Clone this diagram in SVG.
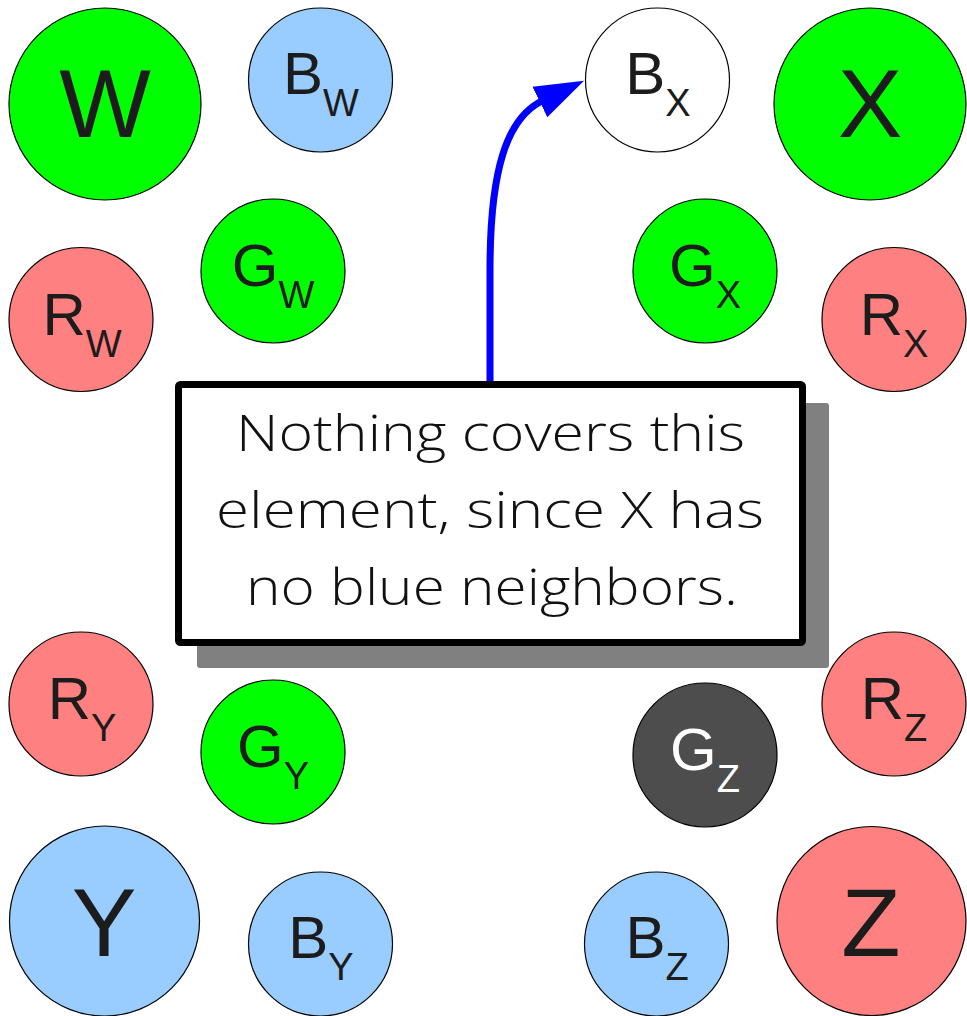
<svg xmlns="http://www.w3.org/2000/svg" width="967" height="1016" viewBox="0 0 967 1016">
<style>
.n{stroke:#000;stroke-width:1.2}
.g{fill:#00ff00}.b{fill:#99ccff}.r{fill:#ff8080}.w{fill:#ffffff}.d{fill:#4d4d4d}
text{font-family:"Liberation Sans",Arial,sans-serif;fill:#1c1c1c;text-anchor:middle}
.big{font-size:97px}
.sm{font-size:60px}
.sub{font-size:38px}
.lt{fill:#ffffff}
.note{font-family:"Open Sans","DejaVu Sans",sans-serif;font-weight:300;font-size:50px;fill:#111;text-anchor:start}
</style>
<defs>
<marker id="ah" markerUnits="userSpaceOnUse" markerWidth="60" markerHeight="40" viewBox="0 -20 60 40" refX="3" refY="0" orient="auto">
<path d="M0,-17 L49,0 L0,17 Z" fill="#0000ff"/>
</marker>
</defs>
<g id="W"><circle class="n g" cx="105" cy="104" r="96"/><text class="big" x="105" y="137">W</text></g>
<g id="BW"><circle class="n b" cx="320.5" cy="80" r="72"/><text class="sm" x="321" y="94">B<tspan class="sub" dy="22">W</tspan></text></g>
<g id="GW"><circle class="n g" cx="273" cy="271" r="72"/><text class="sm" x="273" y="286">G<tspan class="sub" dy="22">W</tspan></text></g>
<g id="RW"><circle class="n r" cx="81" cy="319.5" r="72"/><text class="sm" x="82" y="335">R<tspan class="sub" dy="22">W</tspan></text></g>
<g id="BX"><circle class="n w" cx="657.5" cy="80" r="72"/><text class="sm" x="658" y="94">B<tspan class="sub" dy="22">X</tspan></text></g>
<g id="X"><circle class="n g" cx="870" cy="104" r="96"/><text class="big" x="870" y="137">X</text></g>
<g id="GX"><circle class="n g" cx="705" cy="271" r="72"/><text class="sm" x="705" y="286">G<tspan class="sub" dy="22">X</tspan></text></g>
<g id="RX"><circle class="n r" cx="894" cy="319.5" r="72"/><text class="sm" x="894" y="335">R<tspan class="sub" dy="22">X</tspan></text></g>
<g id="RY"><circle class="n r" cx="81" cy="704" r="72"/><text class="sm" x="82" y="719">R<tspan class="sub" dy="22">Y</tspan></text></g>
<g id="GY"><circle class="n g" cx="273" cy="752" r="72"/><text class="sm" x="273" y="767">G<tspan class="sub" dy="22">Y</tspan></text></g>
<g id="Y"><circle class="n b" cx="104.5" cy="921" r="95"/><text class="big" x="104" y="956">Y</text></g>
<g id="BY"><circle class="n b" cx="320.5" cy="944" r="72"/><text class="sm" x="321" y="958">B<tspan class="sub" dy="22">Y</tspan></text></g>
<g id="GZ"><circle class="n d" cx="705" cy="755" r="72"/><text class="sm lt" x="705" y="770">G<tspan class="sub lt" dy="22">Z</tspan></text></g>
<g id="RZ"><circle class="n r" cx="894" cy="704" r="72"/><text class="sm" x="894" y="719">R<tspan class="sub" dy="22">Z</tspan></text></g>
<g id="BZ"><circle class="n b" cx="656.5" cy="944" r="72"/><text class="sm" x="657" y="958">B<tspan class="sub" dy="22">Z</tspan></text></g>
<g id="Z"><circle class="n r" cx="871.5" cy="921" r="94.5"/><text class="big" x="871" y="956">Z</text></g>
<g id="note">
<rect x="197" y="403" width="632" height="265" rx="3" fill="#808080"/>
<rect x="178.5" y="384.5" width="624" height="258" rx="2" fill="#ffffff" stroke="#000" stroke-width="7"/>
<text class="note" x="236" y="451" textLength="509" lengthAdjust="spacingAndGlyphs">Nothing covers this</text>
<text class="note" x="216" y="528" textLength="548" lengthAdjust="spacingAndGlyphs">element, since X has</text>
<text class="note" x="246" y="605" textLength="492" lengthAdjust="spacingAndGlyphs">no blue neighbors.</text>
</g>
<g id="connectors">
<path d="M490,381 L490,270 C490,170 506.6,118.1 542.6,100.7" fill="none" stroke="#0000ff" stroke-width="7" marker-end="url(#ah)"/>
</g>
</svg>
